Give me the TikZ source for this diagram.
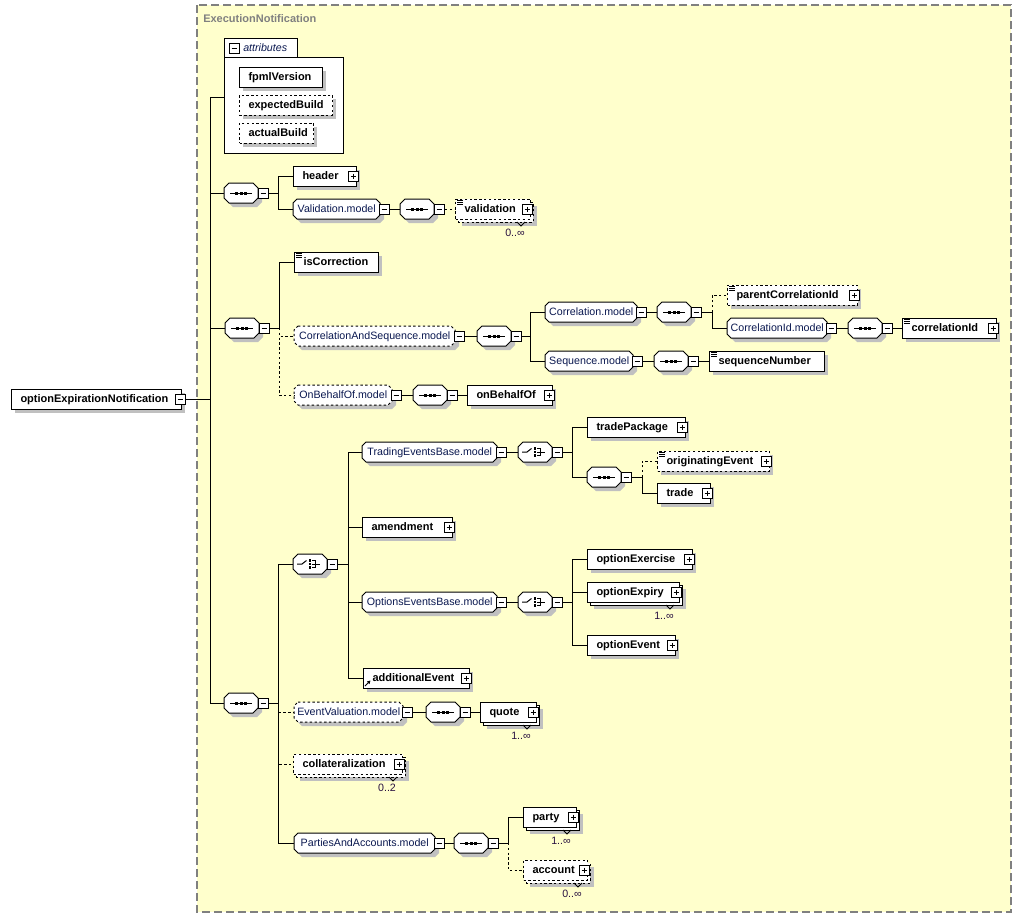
\documentclass[tikz,border=0pt]{standalone}
\usepackage{fontspec}
\setmainfont{Liberation Sans}
\usetikzlibrary{arrows.meta}
\newdimen\pxl \pxl=0.75pt
\definecolor{bgy}{RGB}{255,255,204}
\definecolor{shd}{RGB}{192,192,192}
\definecolor{mdl}{RGB}{10,24,80}
\definecolor{brd}{RGB}{128,128,128}
\definecolor{mult}{RGB}{40,16,64}
\newcommand\elfont{\fontsize{8.25}{10}\selectfont\bfseries}
\newcommand\mdfont{\fontsize{8}{10}\selectfont}
\tikzset{
 conn/.style={line width=0.75pt},
 opt/.style={dash pattern=on 1.8pt off 1.8pt},
 elbox/.style={draw, line width=0.75pt, fill=white, inner xsep=0pt, inner ysep=0pt, minimum height=15pt, text height=6.8pt, text depth=1.2pt, font=\elfont, anchor=west},
 mdbox/.style={draw=none, inner sep=0pt, minimum height=15pt, text height=6.6pt, text depth=1.2pt, font=\mdfont, text=mdl, anchor=west},
 sq/.style={draw, fill=white, line width=0.75pt, minimum size=7.5pt, inner sep=0pt, anchor=west},
 multlbl/.style={font=\mdfont, text=mult, inner sep=0pt},
}
% squares
\newcommand\MinusSq[3]{%
 \fill (#2+1,#3-4) rectangle ++(10,10);
 \node[sq] (#1) at (#2,#3) {};
 \draw[line width=0.75pt] (#2+2.5,#3) -- (#2+7.5,#3);
}
\newcommand\PlusSq[3]{%
 \MinusSq{#1}{#2}{#3}
 \draw[line width=0.75pt] (#2+5,#3-2.5) -- (#2+5,#3+2.5);
}
% element box: [opts]{name}{x}{y}{W}{text}
\newcommand\Elem[6][]{%
 \fill[shd] (#3+4,#4-6) rectangle ++(#5,20);
 \node[elbox,#1] (#2) at (#3,#4) {\hbox to #5\pxl{\hskip 9\pxl\relax #6\hss}};
}
% multiple element: [opts]{name}{x}{y}{W}{text}{label}
\newcommand\MElem[7][]{%
 \fill[shd] (#3+7,#4-3) rectangle ++(#5,20);
 \draw[line width=0.75pt, fill=white, #1] (#3+3,#4-7) rectangle ++(#5,20);
 \draw[line width=0.75pt] (#3+#5-13,#4+13) -- (#3+#5-9,#4+17) -- (#3+#5-5,#4+13);
 \node[elbox,#1] (#2) at (#3,#4) {\hbox to #5\pxl{\hskip 9\pxl\relax #6\hss}};
 \node[multlbl] (#2l) at (#3+#5-15,#4+24) {#7};
}
% simple-type icon at top-left
\newcommand\Simp[2]{%
 \draw[line width=0.6pt] (#1+2,#2+1.5) -- ++(6,0) (#1+2,#2+3.5) -- ++(6,0) (#1+2,#2+5.5) -- ++(6,0);
}
% reference arrow icon at bottom-left
\newcommand\RefIcon[2]{%
 \draw[line width=0.75pt, -{Triangle[length=2.5pt,width=2.6pt]}] (#1+2,#2-2) -- (#1+7.5,#2-7.5);
}
% model group octagon: [opts]{name}{x}{y}{W}{text}
\newcommand\Model[6][]{%
 \fill[shd] (#3+8,#4-6) -- (#3+#5,#4-6) -- (#3+#5+4,#4-2) -- (#3+#5+4,#4+10) -- (#3+#5,#4+14) -- (#3+8,#4+14) -- (#3+4,#4+10) -- (#3+4,#4-2) -- cycle;
 \draw[line width=0.75pt, fill=white, #1] (#3+4,#4-10) -- (#3+#5-4,#4-10) -- (#3+#5,#4-6) -- (#3+#5,#4+6) -- (#3+#5-4,#4+10) -- (#3+4,#4+10) -- (#3,#4+6) -- (#3,#4-6) -- cycle;
 \node[mdbox, minimum width=#5*0.75pt] (#2) at (#3,#4) {#6};
 \MinusSq{#2m}{#3+#5-1}{#4}
}
% compositor icons
\newcommand\iconseq[2]{%
 \draw[line width=0.75pt] (#1+6,#2) -- (#1+28,#2);
 \fill (#1+11,#2-1.5) rectangle ++(3,3);
 \fill (#1+15.5,#2-1.5) rectangle ++(3,3);
 \fill (#1+20,#2-1.5) rectangle ++(3,3);
}
\newcommand\iconcho[2]{%
 \draw[line width=0.75pt] (#1+4,#2) -- (#1+9,#2) -- (#1+13.5,#2-3.5);
 \fill (#1+15.5,#2-4.6) rectangle ++(2.6,2.6);
 \fill (#1+15.5,#2-1.3) rectangle ++(2.6,2.6);
 \fill (#1+15.5,#2+2) rectangle ++(2.6,2.6);
 \draw[line width=0.75pt] (#1+19,#2-3.3) -- (#1+22.5,#2-3.3) -- (#1+22.5,#2+3.3) -- (#1+19,#2+3.3);
 \draw[line width=0.75pt] (#1+19,#2) -- (#1+27,#2);
}
% compositor: {name}{x}{y}{type}
\newcommand\Comp[4]{%
 \fill[shd] (#2+9,#3-6) -- (#2+33,#3-6) -- (#2+38,#3-1) -- (#2+38,#3+9) -- (#2+33,#3+14) -- (#2+9,#3+14) -- (#2+4,#3+9) -- (#2+4,#3-1) -- cycle;
 \draw[line width=0.75pt, fill=white] (#2+5,#3-10) -- (#2+29,#3-10) -- (#2+34,#3-5) -- (#2+34,#3+5) -- (#2+29,#3+10) -- (#2+5,#3+10) -- (#2,#3+5) -- (#2,#3-5) -- cycle;
 \node[inner sep=0pt, minimum width=25.5pt, minimum height=15pt, anchor=west] (#1) at (#2,#3) {};
 \csname icon#4\endcsname{#2}{#3}
 \MinusSq{#1m}{#2+34}{#3}
}
\begin{document}
\begin{tikzpicture}[x=0.75pt,y=-0.75pt]
\useasboundingbox (0,0) rectangle (1021,918);
\fill[white] (0,0) rectangle (1021,918);
\draw[brd, fill=bgy, line width=1pt, dash pattern=on 6pt off 3pt] (197,5) rectangle (1011,912);
\node[font=\elfont, text=brd, anchor=west, inner sep=0pt] (title) at (203,19) {ExecutionNotification};

% root
\Elem{root}{11}{399}{170}{optionExpirationNotification}
\MinusSq{rootm}{175}{399}

% attributes
\draw[line width=0.75pt, fill=white] (224,38) rectangle (297,57);
\node[draw, line width=0.75pt, fill=white, minimum width=89.25pt, minimum height=72pt, inner sep=0pt, anchor=north west] (attr) at (224,57) {};
\MinusSq{attrm}{229}{48}
\node[font=\mdfont\itshape, text=mdl, anchor=west, inner sep=0pt] (attrlbl) at (243,48) {attributes};
\Elem{fpml}{239}{77}{83}{fpmlVersion}
\Elem[opt]{expb}{239}{105}{93}{expectedBuild}
\Elem[opt]{actb}{239}{133}{74}{actualBuild}

% sequence 1
\Comp{seq1}{224}{193}{seq}
\coordinate (b1) at (278,193);
\Elem{header}{293}{176}{63}{header}
\PlusSq{headerp}{293+63-8}{176}
\Model{valmd}{293}{209}{87}{Validation.model}
\Comp{valseq}{400}{209}{seq}
\MElem[opt]{validation}{455}{209}{75}{validation}{0..∞}
\Simp{455}{199}
\PlusSq{validationp}{455+75-8}{209}

% sequence 2
\Comp{seq2}{225}{328}{seq}
\coordinate (b2) at (279,328);
\Elem{iscorr}{294}{262}{84}{isCorrection}
\Simp{294}{252}
\Model[opt]{csmd}{294}{336}{161}{CorrelationAndSequence.model}
\Comp{csseq}{477}{336}{seq}
\coordinate (b3) at (530,336);
\Model{corrmd}{545}{312}{92}{Correlation.model}
\Comp{corrseq}{657}{312}{seq}
\coordinate (b4) at (712,312);
\Elem[opt]{pcid}{727}{295}{130}{parentCorrelationId}
\Simp{727}{285}
\PlusSq{pcidp}{727+130-8}{295}
\Model{cidmd}{727}{328}{100}{CorrelationId.model}
\Comp{cidseq}{848}{328}{seq}
\Elem{cid}{902}{328}{94}{correlationId}
\Simp{902}{318}
\PlusSq{cidp}{902+94-8}{328}
\Model{seqmd}{545}{361}{88}{Sequence.model}
\Comp{seqseq}{654}{361}{seq}
\Elem{seqnum}{709}{361}{115}{sequenceNumber}
\Simp{709}{351}
\Model[opt]{obmd}{294}{395}{98}{OnBehalfOf.model}
\Comp{obseq}{413}{395}{seq}
\Elem{obo}{467}{395}{85}{onBehalfOf}
\PlusSq{obop}{467+85-8}{395}

% sequence 3
\Comp{seq3}{224}{703}{seq}
\coordinate (b5) at (278,703);
\Comp{cho1}{293}{564}{cho}
\coordinate (b6) at (348,564);
\Model{tebmd}{362}{452}{135}{TradingEventsBase.model}
\Comp{tcho}{518}{452}{cho}
\coordinate (b7) at (572,452);
\Elem{tpkg}{587}{427}{98}{tradePackage}
\PlusSq{tpkgp}{587+98-8}{427}
\Comp{tseq}{587}{477}{seq}
\coordinate (b8) at (642,477);
\Elem[opt]{origev}{657}{461}{112}{originatingEvent}
\Simp{657}{451}
\PlusSq{origevp}{657+112-8}{461}
\Elem{trade}{657}{493}{53}{trade}
\PlusSq{tradep}{657+53-8}{493}
\Elem{amend}{362}{527}{90}{amendment}
\PlusSq{amendp}{362+90-8}{527}
\Model{oebmd}{362}{602}{135}{OptionsEventsBase.model}
\Comp{ocho}{518}{602}{cho}
\coordinate (b9) at (572,602);
\Elem{optex}{587}{559}{105}{optionExercise}
\PlusSq{optexp}{587+105-8}{559}
\MElem{optexy}{587}{592}{92}{optionExpiry}{1..∞}
\PlusSq{optexyp}{587+92-8}{592}
\Elem{optev}{587}{645}{88}{optionEvent}
\PlusSq{optevp}{587+88-8}{645}
\Elem{addev}{363}{678}{106}{additionalEvent}
\RefIcon{363}{688}
\PlusSq{addevp}{363+106-8}{678}
\Model[opt]{evmd}{294}{712}{109}{EventValuation.model}
\Comp{evseq}{426}{712}{seq}
\MElem{quote}{480}{712}{56}{quote}{1..∞}
\PlusSq{quotep}{480+56-8}{712}
\MElem[opt]{coll}{293}{764}{109}{collateralization}{0..2}
\PlusSq{collp}{293+109-8}{764}
\Model{pamd}{294}{843}{141}{PartiesAndAccounts.model}
\Comp{paseq}{454}{843}{seq}
\coordinate (b10) at (508,843);
\MElem{party}{523}{817}{53}{party}{1..∞}
\PlusSq{partyp}{523+53-8}{817}
\MElem[opt]{acct}{523}{870}{64}{account}{0..∞}
\PlusSq{acctp}{523+64-8}{870}

% connectors
\coordinate (trunk) at (210,399);
\draw[conn] (rootm.east) -- (trunk) |- ([yshift=6pt]attr.west);
\draw[conn] (trunk) |- (seq1.west);
\draw[conn] (trunk) |- (seq2.west);
\draw[conn] (trunk) |- (seq3.west);

\draw[conn] (seq1m.east) -- (b1) |- (header.west);
\draw[conn] (b1) |- (valmd.west);
\draw[conn] (valmdm.east) -- (valseq.west);
\draw[conn,opt] (valseqm.east) -- (validation.west);

\draw[conn,opt] (b2) |- (csmd.west);
\draw[conn,opt] (b2) |- (obmd.west);
\draw[conn] (seq2m.east) -- (b2) |- (iscorr.west);
\draw[conn] (csmdm.east) -- (csseq.west);
\draw[conn] (csseqm.east) -- (b3) |- (corrmd.west);
\draw[conn] (b3) |- (seqmd.west);
\draw[conn] (corrmdm.east) -- (corrseq.west);
\draw[conn,opt] (b4) |- (pcid.west);
\draw[conn] (corrseqm.east) -- (b4) |- (cidmd.west);
\draw[conn] (cidmdm.east) -- (cidseq.west);
\draw[conn] (cidseqm.east) -- (cid.west);
\draw[conn] (seqmdm.east) -- (seqseq.west);
\draw[conn] (seqseqm.east) -- (seqnum.west);
\draw[conn] (obmdm.east) -- (obseq.west);
\draw[conn] (obseqm.east) -- (obo.west);

\draw[conn,opt] (b5) |- (evmd.west);
\draw[conn,opt] (b5) |- (coll.west);
\draw[conn] (seq3m.east) -- (b5) |- (cho1.west);
\draw[conn] (b5) |- (pamd.west);
\draw[conn] (cho1m.east) -- (b6) |- (tebmd.west);
\draw[conn] (b6) |- (amend.west);
\draw[conn] (b6) |- (oebmd.west);
\draw[conn] (b6) |- (addev.west);
\draw[conn] (tebmdm.east) -- (tcho.west);
\draw[conn] (tchom.east) -- (b7) |- (tpkg.west);
\draw[conn] (b7) |- (tseq.west);
\draw[conn,opt] (b8) |- (origev.west);
\draw[conn] (tseqm.east) -- (b8) |- (trade.west);
\draw[conn] (oebmdm.east) -- (ocho.west);
\draw[conn] (ochom.east) -- (b9) |- (optex.west);
\draw[conn] (b9) |- (optexy.west);
\draw[conn] (b9) |- (optev.west);
\draw[conn] (evmdm.east) -- (evseq.west);
\draw[conn] (evseqm.east) -- (quote.west);
\draw[conn] (pamdm.east) -- (paseq.west);
\draw[conn,opt] (b10) |- (acct.west);
\draw[conn] (paseqm.east) -- (b10) |- (party.west);
\end{tikzpicture}
\end{document}
